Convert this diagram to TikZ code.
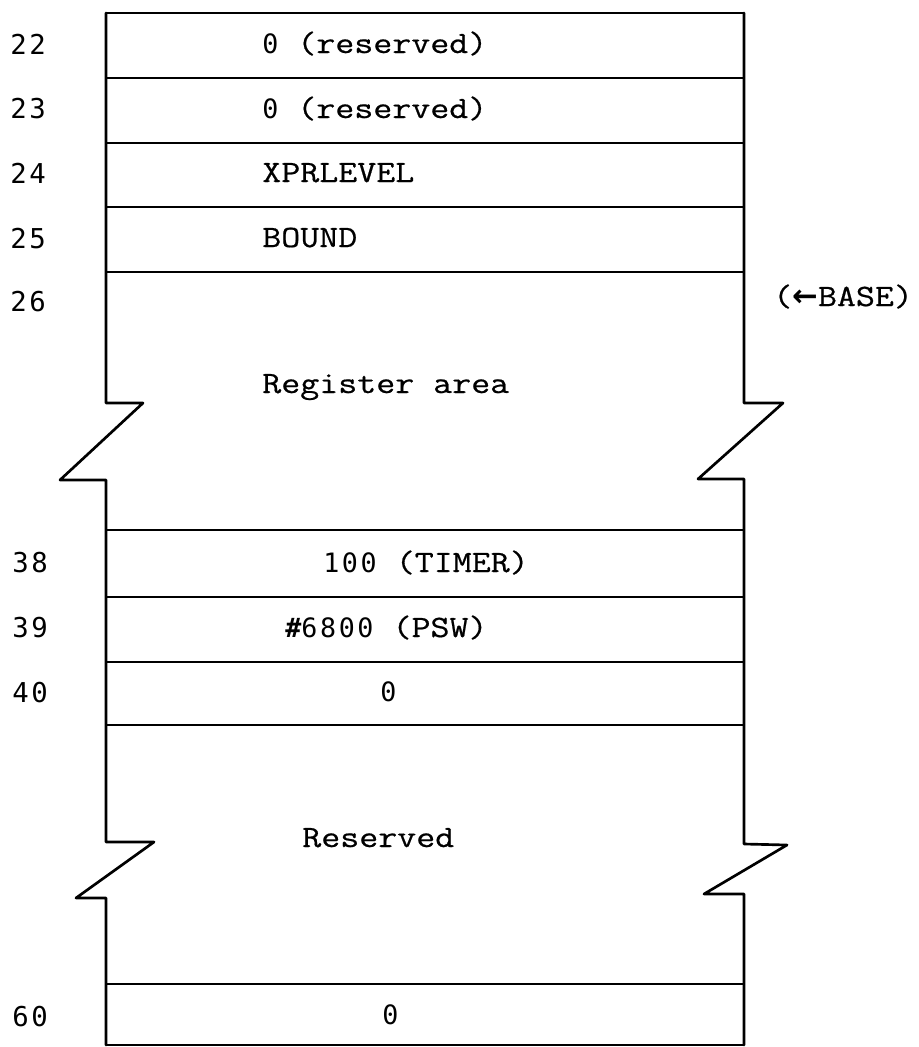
\documentclass[tikz,border=0pt]{standalone}
\usepackage{fontspec}
\setmonofont[FakeStretch=1.19,FakeBold=0.6]{Latin Modern Mono}
\newfontfamily\dig[LetterSpace=10]{DejaVu Sans Mono}
\newfontfamily\arrfont{DejaVu Sans Bold}
\begin{document}
\begin{tikzpicture}[x=0.75pt,y=-0.75pt,
  frame/.style={line width=2pt, line join=round, line cap=round},
  rule/.style={line width=1.9pt},
  lbl/.style={font=\dig\fontsize{20.5}{23}\selectfont, anchor=base west, inner sep=0},
  txt/.style={font=\ttfamily\fontsize{23.25}{28}\selectfont, anchor=base west, inner sep=0}]
\useasboundingbox (0,0) rectangle (919,1047);
% outline sides with break marks
\draw[frame] (106,13) -- (106,403) -- (143,403) -- (60,480) -- (106,480) -- (106,842) -- (154,842) -- (76,898) -- (106,898) -- (106,1045);
\draw[frame] (744,13) -- (744,403) -- (783,403) -- (698,479) -- (744,479) -- (744,844) -- (787,845) -- (704,894) -- (744,894) -- (744,1045);
% horizontal rules
\foreach \yy in {13,78,143,207,272,530,597,662,725,984,1045}
  \draw[rule] (106,\yy) -- (744,\yy);
% left labels
\node[lbl] (l22) at (10,54) {22};
\node[lbl] (l23) at (10,118) {23};
\node[lbl] (l24) at (10,183) {24};
\node[lbl] (l25) at (10,248) {25};
\node[lbl] (l26) at (10,311) {26};
\node[lbl] (l38) at (12,572) {38};
\node[lbl] (l39) at (12,637) {39};
\node[lbl] (l40) at (12,702) {40};
\node[lbl] (l60) at (12,1026) {60};
% cell texts
\node[txt] (c22) at (262,53) {{\dig\fontsize{20}{22}\selectfont 0} (reserved)};
\node[txt] (c23) at (262,118) {{\dig\fontsize{20}{22}\selectfont 0} (reserved)};
\node[txt] (c24) at (262,182) {XPRLEVEL};
\node[txt] (c25) at (262,247) {BOUND};
\node[txt] (reg) at (262,393) {Register area};
\node[txt] (c38) at (323,572) {{\dig\fontsize{20}{22}\selectfont 100} (TIMER)};
\node[txt] (c39) at (285,637) {{\dig\fontsize{20}{22}\selectfont\bfseries\#}{\dig\fontsize{20}{22}\selectfont 6800} (PSW)};
\node[txt] (c40) at (380,701) {{\dig\fontsize{20}{22}\selectfont 0}};
\node[txt] (res) at (302,847) {Reserved};
\node[txt] (c60) at (382,1024) {{\dig\fontsize{20}{22}\selectfont 0}};
% base marker
\node[txt] (base) at (773,306) {({\arrfont\fontsize{23}{28}\selectfont ←}BASE)};
\end{tikzpicture}
\end{document}
